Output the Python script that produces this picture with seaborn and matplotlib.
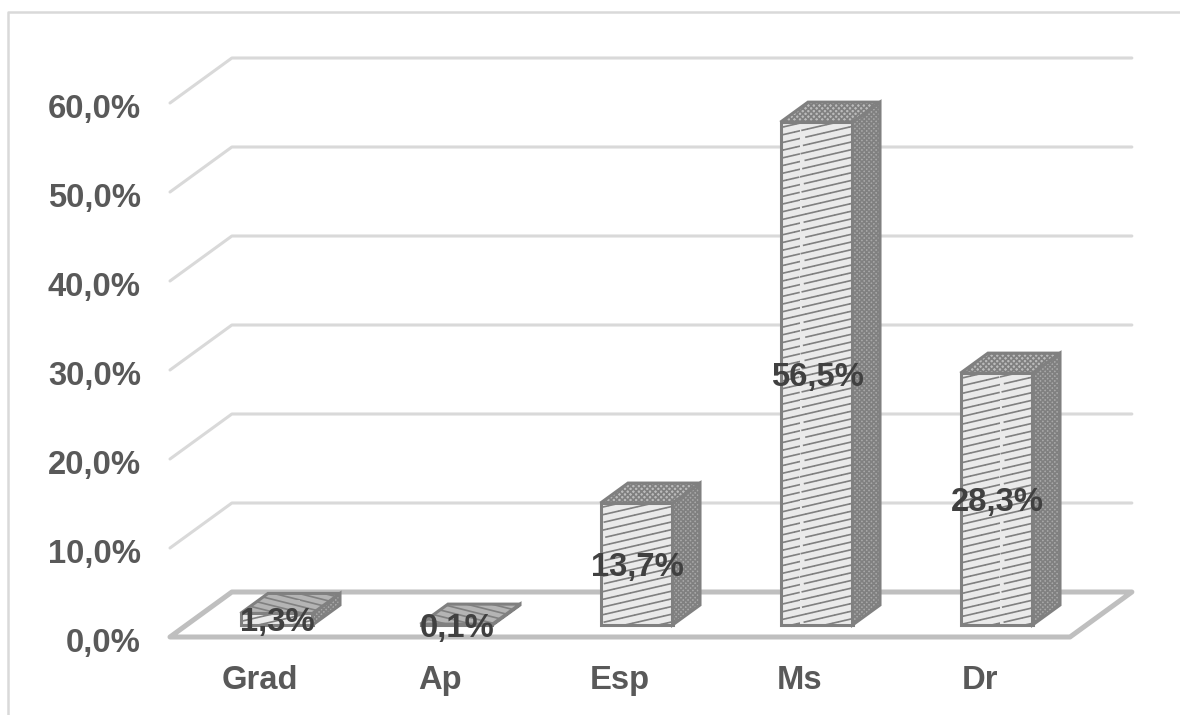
import matplotlib
matplotlib.use("Agg")
import matplotlib.pyplot as plt
import matplotlib.hatch as mhatch
from matplotlib.lines import Line2D
from matplotlib.patches import Polygon
from matplotlib.path import Path
from matplotlib.transforms import ScaledTranslation
import numpy as np
import pandas as pd
import seaborn as sns

# Survey shares by academic degree
categories = ["Grad", "Ap", "Esp", "Ms", "Dr"]
shares = [1.3, 0.1, 13.7, 56.5, 28.3]
share_labels = ["1,3%", "0,1%", "13,7%", "56,5%", "28,3%"]
axis_ticks = [0, 10, 20, 30, 40, 50, 60]
axis_labels = ["0,0%", "10,0%", "20,0%", "30,0%", "40,0%", "50,0%", "60,0%"]


class ShallowDashes(mhatch.HatchPatternBase):
    """Broken, gently rising stripes that tile seamlessly."""

    ROWS = 13
    RISE = 3
    DASHES = 16
    FILL = 0.76

    def __init__(self, hatch, density):
        self.active = "~" in hatch
        total_rows = self.ROWS + self.RISE
        self.num_lines = total_rows * self.DASHES if self.active else 0
        self.num_vertices = self.num_lines * 2

    def set_vertices_and_codes(self, vertices, codes):
        pts = []
        for r in range(-self.RISE, self.ROWS):
            for c in range(self.DASHES):
                # stagger the gaps from one row to the next
                start = (c + 0.37 * (r % self.ROWS)) / self.DASHES % 1.0
                end = min(start + self.FILL / self.DASHES, 1.0)
                y0 = (r + self.RISE * start) / self.ROWS
                y1 = (r + self.RISE * end) / self.ROWS
                pts += [(start, y0), (end, y1)]
        vertices[:] = np.array(pts)
        codes[0::2] = Path.MOVETO
        codes[1::2] = Path.LINETO


class ShallowFall(mhatch.HatchPatternBase):
    """Solid stripes falling gently to the right, for thin slab lids."""

    ROWS = 16
    DROP = 4

    def __init__(self, hatch, density):
        self.active = "=" in hatch
        self.num_lines = (self.ROWS + self.DROP) if self.active else 0
        self.num_vertices = self.num_lines * 2

    def set_vertices_and_codes(self, vertices, codes):
        pts = []
        for r in range(self.ROWS + self.DROP):
            pts += [(0.0, r / self.ROWS), (1.0, (r - self.DROP) / self.ROWS)]
        vertices[:] = np.array(pts)
        codes[0::2] = Path.MOVETO
        codes[1::2] = Path.LINETO


mhatch._hatch_types.extend([ShallowDashes, ShallowFall])

sns.set_theme(style="white")
plt.rcParams["font.family"] = ["Liberation Sans", "DejaVu Sans"]
plt.rcParams["hatch.linewidth"] = 1.2

W, H = 1180, 715
fig = plt.figure(figsize=(W / 100, H / 100), dpi=100)
# The axes rectangle is the front edge of the floor; depth is added by projection
ax = fig.add_axes([170 / W, (H - 637) / H, 900 / W, 534 / H])

frame = pd.DataFrame({"degree": categories, "share": shares})
sns.barplot(data=frame, x="degree", y="share", order=categories, width=0.4,
            color="#eaeaea", saturation=1, ax=ax, zorder=3)

ax.set_xlim(-0.5, 4.5)
ax.set_ylim(0, 60)
ax.set_xlabel("")
ax.set_ylabel("")
ax.set_yticks(axis_ticks, axis_labels)
ax.tick_params(axis="both", length=0, labelsize=23.6, labelcolor="#595959")
ax.tick_params(axis="x", pad=20.5)
ax.tick_params(axis="y", pad=21)
nudge_down = ScaledTranslation(0, -2 / 72, fig.dpi_scale_trans)
for lab in ax.get_xticklabels():
    lab.set_fontweight("bold")
for lab in ax.get_yticklabels():
    lab.set_fontweight("bold")
    lab.set_transform(lab.get_transform() + nudge_down)
sns.despine(ax=ax, left=True, bottom=True)
ax.patch.set_alpha(0)

# Oblique projection: one depth unit moves right and up, in data units
PX_X = 1 / 180
PX_Y = 1 / 8.9
DEPTH_X = 27.5 * PX_X
DEPTH_Y = 20 * PX_Y
BAR_Z = 0.6        # bars stand slightly behind the front floor edge
WALL_Z = 2.25      # back wall


def project(x, y, z):
    return (x + z * DEPTH_X, y + z * DEPTH_Y)


GRID = "#d9d9d9"
FLOOR = "#bfbfbf"
x_left, x_right = -0.5, 4.5

# Wall grid lines with their slanted returns to the side
for t in axis_ticks[1:]:
    pts = [project(x_left, t, 0), project(x_left, t, WALL_Z), project(x_right, t, WALL_Z)]
    ax.plot(*zip(*pts), color=GRID, lw=2.2, clip_on=False, zorder=1,
            solid_joinstyle="round")

# Floor outline
floor = [project(x_left, 0, 0), project(x_left, 0, WALL_Z),
         project(x_right, 0, WALL_Z), project(x_right, 0, 0)]
ax.add_patch(Polygon(floor, closed=True, facecolor="white", edgecolor=FLOOR, lw=3.6,
                     clip_on=False, zorder=1, joinstyle="round"))

# Move the front faces back and add the top and side of every bar
EDGE = "#808080"
for bar, value, label in zip(ax.patches, shares, share_labels):
    x0 = bar.get_x() + BAR_Z * DEPTH_X
    w = bar.get_width()
    base = BAR_Z * DEPTH_Y
    bar.set_x(x0)
    bar.set_y(base)
    bar.set_clip_on(False)
    bar.set_edgecolor(EDGE)
    bar.set_linewidth(2.2)
    bar.set_hatch("~")

    x1 = x0 + w
    top = base + value
    side = [(x1, base), (x1, top), (x1 + DEPTH_X, top + DEPTH_Y), (x1 + DEPTH_X, base + DEPTH_Y)]
    cap = [(x0, top), (x1, top), (x1 + DEPTH_X, top + DEPTH_Y), (x0 + DEPTH_X, top + DEPTH_Y)]
    ax.add_patch(Polygon(side, closed=True, facecolor="#a8a8a8", edgecolor=EDGE, lw=2.2,
                         hatch="xxxxxxx", clip_on=False, zorder=3))
    # Thin slabs carry broad stripes on the lid, taller bars a fine weave
    cap_hatch = "=" if value < 5 else "xxxxxx"
    cap_face = "#b4b4b4" if value < 5 else "#bcbcbc"
    ax.add_patch(Polygon(cap, closed=True, facecolor=cap_face, edgecolor=EDGE, lw=2.2,
                         hatch=cap_hatch, clip_on=False, zorder=3))
    ax.text(x0 + w / 2 + 0.006, base + value / 2 - 0.4, label, ha="center", va="center",
            fontsize=23.6, fontweight="bold", color="#404040", zorder=5, clip_on=False)

# Outer chart border, open at the bottom
fig.add_artist(Line2D([8 / W, 8 / W, 1], [0, (H - 12) / H, (H - 12) / H],
                      color="#d9d9d9", lw=1.8))

fig.savefig("out.png", dpi=100, facecolor="white")
